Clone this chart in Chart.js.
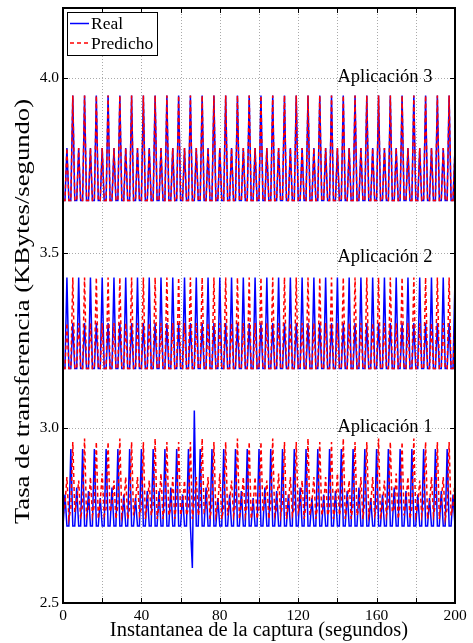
<!DOCTYPE html>
<html>
<head>
<meta charset="utf-8">
<script src="https://cdn.jsdelivr.net/npm/chart.js@4.4.1/dist/chart.umd.min.js"></script>
<style>
html, body { margin: 0; padding: 0; background: #fff; }
#wrap { width: 473px; height: 643px; }
</style>
</head>
<body>
<div id="wrap"><canvas id="chartTasa"></canvas></div>
<script>
// instante de captura, un dato por segundo (0..200)
const segundos = Array.from({ length: 201 }, (_, i) => i);

const real1 = [
    2.72,2.81,2.72,2.72,2.94,2.72,2.72,2.83,2.72,2.72,2.94,2.72,
    2.72,2.82,2.72,2.72,2.94,2.72,2.72,2.80,2.72,2.72,2.94,2.72,
    2.72,2.83,2.72,2.72,2.94,2.72,2.72,2.81,2.72,2.72,2.94,2.72,
    2.72,2.80,2.72,2.72,2.94,2.72,2.72,2.82,2.72,2.72,2.94,2.72,
    2.72,2.82,2.72,2.72,2.94,2.72,2.72,2.83,2.72,2.72,2.94,2.72,
    2.72,2.81,2.72,2.72,2.94,2.72,2.60,3.05,2.72,2.72,2.94,2.72,
    2.72,2.83,2.72,2.72,2.94,2.72,2.72,2.80,2.72,2.72,2.94,2.72,
    2.72,2.81,2.72,2.72,2.94,2.72,2.72,2.82,2.72,2.72,2.94,2.72,
    2.72,2.80,2.72,2.72,2.94,2.72,2.72,2.83,2.72,2.72,2.94,2.72,
    2.72,2.82,2.72,2.72,2.94,2.72,2.72,2.81,2.72,2.72,2.94,2.72,
    2.72,2.83,2.72,2.72,2.94,2.72,2.72,2.80,2.72,2.72,2.94,2.72,
    2.72,2.81,2.72,2.72,2.94,2.72,2.72,2.82,2.72,2.72,2.94,2.72,
    2.72,2.82,2.72,2.72,2.94,2.72,2.72,2.83,2.72,2.72,2.94,2.72,
    2.72,2.80,2.72,2.72,2.94,2.72,2.72,2.81,2.72,2.72,2.94,2.72,
    2.72,2.83,2.72,2.72,2.94,2.72,2.72,2.82,2.72,2.72,2.94,2.72,
    2.72,2.81,2.72,2.72,2.94,2.72,2.72,2.80,2.72,2.72,2.94,2.72,
    2.72,2.82,2.72,2.72,2.94,2.72,2.72,2.81,2.72
];
const predicho1 = [
    2.75,2.78,2.86,2.74,2.77,2.96,2.76,2.79,2.85,2.74,2.78,2.97,
    2.75,2.77,2.86,2.75,2.78,2.96,2.74,2.79,2.87,2.75,2.77,2.96,
    2.76,2.78,2.85,2.74,2.78,2.97,2.75,2.78,2.86,2.74,2.77,2.96,
    2.75,2.79,2.86,2.75,2.77,2.96,2.74,2.78,2.85,2.75,2.78,2.97,
    2.74,2.78,2.87,2.74,2.78,2.96,2.75,2.77,2.86,2.74,2.79,2.96,
    2.75,2.78,2.85,2.75,2.77,2.96,2.74,2.79,2.86,2.75,2.78,2.97,
    2.76,2.77,2.86,2.74,2.78,2.96,2.75,2.78,2.87,2.74,2.77,2.96,
    2.75,2.79,2.85,2.75,2.78,2.97,2.74,2.78,2.86,2.75,2.78,2.96,
    2.74,2.78,2.86,2.74,2.77,2.96,2.76,2.79,2.85,2.74,2.78,2.97,
    2.75,2.77,2.87,2.75,2.78,2.96,2.74,2.78,2.86,2.75,2.77,2.96,
    2.76,2.78,2.85,2.74,2.78,2.97,2.75,2.79,2.86,2.74,2.78,2.96,
    2.75,2.78,2.86,2.75,2.77,2.96,2.74,2.78,2.87,2.75,2.78,2.97,
    2.74,2.79,2.85,2.74,2.78,2.96,2.75,2.77,2.86,2.74,2.79,2.96,
    2.75,2.78,2.86,2.75,2.77,2.97,2.74,2.78,2.85,2.75,2.78,2.96,
    2.76,2.77,2.87,2.74,2.78,2.96,2.75,2.79,2.86,2.74,2.77,2.97,
    2.75,2.78,2.85,2.75,2.78,2.96,2.74,2.78,2.86,2.75,2.78,2.96,
    2.74,2.79,2.86,2.74,2.77,2.96,2.75,2.78,2.85
];
const real2 = [
    3.17,3.17,3.43,3.17,3.17,3.30,3.17,3.17,3.43,3.17,3.17,3.30,
    3.17,3.17,3.43,3.17,3.17,3.30,3.17,3.17,3.43,3.17,3.17,3.30,
    3.17,3.17,3.43,3.17,3.17,3.30,3.17,3.17,3.43,3.17,3.17,3.30,
    3.17,3.17,3.43,3.17,3.17,3.30,3.17,3.17,3.43,3.17,3.17,3.30,
    3.17,3.17,3.43,3.17,3.17,3.30,3.17,3.17,3.43,3.17,3.17,3.30,
    3.17,3.17,3.43,3.17,3.17,3.30,3.17,3.17,3.43,3.17,3.17,3.30,
    3.17,3.17,3.43,3.17,3.17,3.30,3.17,3.17,3.43,3.17,3.17,3.30,
    3.17,3.17,3.43,3.17,3.17,3.30,3.17,3.17,3.43,3.17,3.17,3.30,
    3.17,3.17,3.43,3.17,3.17,3.30,3.17,3.17,3.43,3.17,3.17,3.30,
    3.17,3.17,3.43,3.17,3.17,3.30,3.17,3.17,3.43,3.17,3.17,3.30,
    3.17,3.17,3.43,3.17,3.17,3.30,3.17,3.17,3.43,3.17,3.17,3.30,
    3.17,3.17,3.43,3.17,3.17,3.30,3.17,3.17,3.43,3.17,3.17,3.30,
    3.17,3.17,3.43,3.17,3.17,3.30,3.17,3.17,3.43,3.17,3.17,3.30,
    3.17,3.17,3.43,3.17,3.17,3.30,3.17,3.17,3.43,3.17,3.17,3.30,
    3.17,3.17,3.43,3.17,3.17,3.30,3.17,3.17,3.43,3.17,3.17,3.30,
    3.17,3.17,3.43,3.17,3.17,3.30,3.17,3.17,3.43,3.17,3.17,3.30,
    3.17,3.17,3.43,3.17,3.17,3.30,3.17,3.17,3.43
];
const predicho2 = [
    3.17,3.17,3.30,3.17,3.17,3.43,3.17,3.17,3.30,3.17,3.17,3.43,
    3.17,3.17,3.30,3.17,3.17,3.43,3.17,3.17,3.30,3.17,3.17,3.43,
    3.17,3.17,3.30,3.17,3.17,3.43,3.17,3.17,3.30,3.17,3.17,3.43,
    3.17,3.17,3.30,3.17,3.17,3.43,3.17,3.17,3.30,3.17,3.17,3.43,
    3.17,3.17,3.30,3.17,3.17,3.43,3.17,3.17,3.30,3.17,3.17,3.43,
    3.17,3.17,3.30,3.17,3.17,3.43,3.17,3.17,3.30,3.17,3.17,3.43,
    3.17,3.17,3.30,3.17,3.17,3.43,3.17,3.17,3.30,3.17,3.17,3.43,
    3.17,3.17,3.30,3.17,3.17,3.43,3.17,3.17,3.30,3.17,3.17,3.43,
    3.17,3.17,3.30,3.17,3.17,3.43,3.17,3.17,3.30,3.17,3.17,3.43,
    3.17,3.17,3.30,3.17,3.17,3.43,3.17,3.17,3.30,3.17,3.17,3.43,
    3.17,3.17,3.30,3.17,3.17,3.43,3.17,3.17,3.30,3.17,3.17,3.43,
    3.17,3.17,3.30,3.17,3.17,3.43,3.17,3.17,3.30,3.17,3.17,3.43,
    3.17,3.17,3.30,3.17,3.17,3.43,3.17,3.17,3.30,3.17,3.17,3.43,
    3.17,3.17,3.30,3.17,3.17,3.43,3.17,3.17,3.30,3.17,3.17,3.43,
    3.17,3.17,3.30,3.17,3.17,3.43,3.17,3.17,3.30,3.17,3.17,3.43,
    3.17,3.17,3.30,3.17,3.17,3.43,3.17,3.17,3.30,3.17,3.17,3.43,
    3.17,3.17,3.30,3.17,3.17,3.43,3.17,3.17,3.30
];
const real3 = [
    3.65,3.65,3.80,3.65,3.65,3.95,3.65,3.65,3.80,3.65,3.65,3.95,
    3.65,3.65,3.80,3.65,3.65,3.95,3.65,3.65,3.80,3.65,3.65,3.95,
    3.65,3.65,3.80,3.65,3.65,3.95,3.65,3.65,3.80,3.65,3.65,3.95,
    3.65,3.65,3.80,3.65,3.65,3.95,3.65,3.65,3.80,3.65,3.65,3.95,
    3.65,3.65,3.80,3.65,3.65,3.95,3.65,3.65,3.80,3.65,3.65,3.95,
    3.65,3.65,3.80,3.65,3.65,3.95,3.65,3.65,3.80,3.65,3.65,3.95,
    3.65,3.65,3.80,3.65,3.65,3.95,3.65,3.65,3.80,3.65,3.65,3.95,
    3.65,3.65,3.80,3.65,3.65,3.95,3.65,3.65,3.80,3.65,3.65,3.95,
    3.65,3.65,3.80,3.65,3.65,3.95,3.65,3.65,3.80,3.65,3.65,3.95,
    3.65,3.65,3.80,3.65,3.65,3.95,3.65,3.65,3.80,3.65,3.65,3.95,
    3.65,3.65,3.80,3.65,3.65,3.95,3.65,3.65,3.80,3.65,3.65,3.95,
    3.65,3.65,3.80,3.65,3.65,3.95,3.65,3.65,3.80,3.65,3.65,3.95,
    3.65,3.65,3.80,3.65,3.65,3.95,3.65,3.65,3.80,3.65,3.65,3.95,
    3.65,3.65,3.80,3.65,3.65,3.95,3.65,3.65,3.80,3.65,3.65,3.95,
    3.65,3.65,3.80,3.65,3.65,3.95,3.65,3.65,3.80,3.65,3.65,3.95,
    3.65,3.65,3.80,3.65,3.65,3.95,3.65,3.65,3.80,3.65,3.65,3.95,
    3.65,3.65,3.80,3.65,3.65,3.95,3.65,3.65,3.80
];
const predicho3 = [
    3.65,3.65,3.80,3.65,3.65,3.95,3.65,3.65,3.80,3.65,3.65,3.95,
    3.65,3.65,3.80,3.65,3.65,3.95,3.65,3.65,3.80,3.65,3.65,3.95,
    3.65,3.65,3.80,3.65,3.65,3.95,3.65,3.65,3.80,3.65,3.65,3.95,
    3.65,3.65,3.80,3.65,3.65,3.95,3.65,3.65,3.80,3.65,3.65,3.95,
    3.65,3.65,3.80,3.65,3.65,3.95,3.65,3.65,3.80,3.65,3.65,3.95,
    3.65,3.65,3.80,3.65,3.65,3.95,3.65,3.65,3.80,3.65,3.65,3.95,
    3.65,3.65,3.80,3.65,3.65,3.95,3.65,3.65,3.80,3.65,3.65,3.95,
    3.65,3.65,3.80,3.65,3.65,3.95,3.65,3.65,3.80,3.65,3.65,3.95,
    3.65,3.65,3.80,3.65,3.65,3.95,3.65,3.65,3.80,3.65,3.65,3.95,
    3.65,3.65,3.80,3.65,3.65,3.95,3.65,3.65,3.80,3.65,3.65,3.95,
    3.65,3.65,3.80,3.65,3.65,3.95,3.65,3.65,3.80,3.65,3.65,3.95,
    3.65,3.65,3.80,3.65,3.65,3.95,3.65,3.65,3.80,3.65,3.65,3.95,
    3.65,3.65,3.80,3.65,3.65,3.95,3.65,3.65,3.80,3.65,3.65,3.95,
    3.65,3.65,3.80,3.65,3.65,3.95,3.65,3.65,3.80,3.65,3.65,3.95,
    3.65,3.65,3.80,3.65,3.65,3.95,3.65,3.65,3.80,3.65,3.65,3.95,
    3.65,3.65,3.80,3.65,3.65,3.95,3.65,3.65,3.80,3.65,3.65,3.95,
    3.65,3.65,3.80,3.65,3.65,3.95,3.65,3.65,3.80
];

const xTicks = [0, 20, 40, 60, 80, 100, 120, 140, 160, 180, 200];
const xEtiquetas = [0, 40, 80, 120, 160, 200];
const yTicks = [2.5, 3.0, 3.5, 4.0];
const aplicaciones = ['Aplicación 1', 'Aplicación 2', 'Aplicación 3'];
const tituloY = 'Tasa de transferencia (KBytes/segundo)';

const serif = "'Liberation Serif', 'Times New Roman', serif";

function serie(label, data, color, dash) {
    return {
        label: label,
        data: data,
        borderColor: color,
        borderWidth: 1.5,
        borderDash: dash,
        pointRadius: 0,
        fill: false,
        tension: 0,
        order: dash.length ? 1 : 2
    };
}

// rejilla punteada, marco, marcas hacia dentro, leyenda y rotulos
const marco = {
    id: 'marco',
    beforeDatasetsDraw(chart) {
        const { ctx, chartArea: a, scales: { x, y } } = chart;
        ctx.save();
        ctx.strokeStyle = '#aaa';
        ctx.lineWidth = 1;
        ctx.setLineDash([1, 2]);
        ctx.beginPath();
        xTicks.forEach(v => {
            const px = Math.round(x.getPixelForValue(v)) + 0.5;
            ctx.moveTo(px, a.top); ctx.lineTo(px, a.bottom);
        });
        yTicks.forEach(v => {
            const py = Math.round(y.getPixelForValue(v)) + 0.5;
            ctx.moveTo(a.left, py); ctx.lineTo(a.right, py);
        });
        ctx.stroke();
        ctx.restore();
    },
    afterDraw(chart) {
        const { ctx, chartArea: a, scales: { x, y } } = chart;
        ctx.save();
        ctx.strokeStyle = '#000';
        ctx.lineWidth = 1;
        ctx.beginPath();
        xTicks.forEach(v => {
            const px = Math.round(x.getPixelForValue(v)) + 0.5;
            ctx.moveTo(px, a.bottom); ctx.lineTo(px, a.bottom - 5);
            ctx.moveTo(px, a.top); ctx.lineTo(px, a.top + 5);
        });
        yTicks.forEach(v => {
            const py = Math.round(y.getPixelForValue(v)) + 0.5;
            ctx.moveTo(a.left, py); ctx.lineTo(a.left + 5, py);
            ctx.moveTo(a.right, py); ctx.lineTo(a.right - 5, py);
        });
        ctx.stroke();
        ctx.lineWidth = 2;
        ctx.strokeRect(a.left, a.top, a.right - a.left, a.bottom - a.top);

        // leyenda
        const lx = a.left + 4, ly = a.top + 4;
        ctx.fillStyle = '#fff';
        ctx.fillRect(lx, ly, 90, 43);
        ctx.lineWidth = 1;
        ctx.strokeRect(lx + 0.5, ly + 0.5, 90, 43);
        const items = [['Real', '#0000ff', []], ['Predicho', '#ff0000', [4, 3]]];
        ctx.font = '17.5px ' + serif;
        ctx.textBaseline = 'middle';
        items.forEach((it, i) => {
            const yy = ly + 11.5 + i * 19.5;
            ctx.strokeStyle = it[1];
            ctx.lineWidth = 1.5;
            ctx.setLineDash(it[2]);
            ctx.beginPath();
            ctx.moveTo(lx + 3, yy); ctx.lineTo(lx + 22, yy);
            ctx.stroke();
            ctx.setLineDash([]);
            ctx.fillStyle = '#000';
            ctx.fillText(it[0], lx + 24, yy + 1);
        });

        // rotulos de cada aplicacion
        ctx.font = '18.5px ' + serif;
        ctx.fillStyle = '#000';
        ctx.textBaseline = 'alphabetic';
        ctx.textAlign = 'left';
        const niveles = [2.99, 3.475, 3.99];
        aplicaciones.forEach((t, i) => {
            ctx.fillText(t, x.getPixelForValue(140), y.getPixelForValue(niveles[i]));
        });

        // titulo del eje y, estirado a lo largo como en la figura original
        ctx.translate(24, (a.top + a.bottom) / 2 + 6);
        ctx.rotate(-Math.PI / 2);
        ctx.scale(1.3, 1);
        ctx.font = '20.5px ' + serif;
        ctx.textAlign = 'center';
        ctx.textBaseline = 'middle';
        ctx.fillText(tituloY, 0, 0);
        ctx.restore();
    }
};

const ctxTasa = document.getElementById('chartTasa').getContext('2d');
const chart = new Chart(ctxTasa, {
    type: 'line',
    data: {
        labels: segundos,
        datasets: [
            serie('Real', real1, '#0000ff', []),
            serie('Real', real2, '#0000ff', []),
            serie('Real', real3, '#0000ff', []),
            serie('Predicho', predicho1, '#ff0000', [4, 3]),
            serie('Predicho', predicho2, '#ff0000', [4, 3]),
            serie('Predicho', predicho3, '#ff0000', [4, 3])
        ]
    },
    options: {
        responsive: true,
        maintainAspectRatio: false,
        animation: false,
        layout: { padding: { top: 8, right: 18, left: 0, bottom: 0 } },
        plugins: {
            legend: { display: false },
            tooltip: { enabled: false }
        },
        scales: {
            x: {
                type: 'linear',
                min: 0,
                max: 200,
                afterBuildTicks: s => { s.ticks = xTicks.map(v => ({ value: v })); },
                afterFit: s => { s.height = 40; s.paddingLeft = 0; s.paddingRight = 0; },
                grid: { display: false, drawTicks: false },
                border: { display: false },
                ticks: {
                    autoSkip: false,
                    maxRotation: 0,
                    padding: 4,
                    color: '#000',
                    font: { family: serif, size: 15.5 },
                    callback: v => xEtiquetas.includes(v) ? String(v) : ''
                },
                title: {
                    display: true,
                    text: 'Instantanea de la captura (segundos)',
                    color: '#000',
                    font: { family: serif, size: 20.5 },
                    padding: { top: 0, bottom: 0 }
                }
            },
            y: {
                min: 2.5,
                max: 4.2,
                afterBuildTicks: s => { s.ticks = yTicks.map(v => ({ value: v })); },
                afterFit: s => { s.width = 63; s.paddingTop = 0; s.paddingBottom = 0; },
                grid: { display: false, drawTicks: false },
                border: { display: false },
                ticks: {
                    padding: 4,
                    color: '#000',
                    font: { family: serif, size: 15.5 },
                    callback: v => v.toFixed(1)
                },
                title: { display: false }
            }
        }
    },
    plugins: [marco]
});
</script>
</body>
</html>
